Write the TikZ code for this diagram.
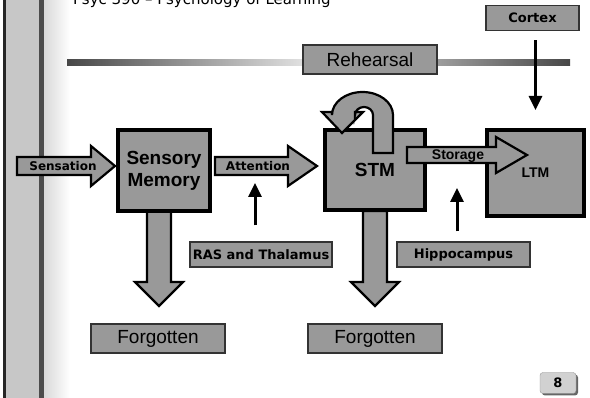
\documentclass[tikz,border=0pt]{standalone}
\usepackage{fontspec}
\setmainfont{Liberation Sans}
\newfontfamily\verd{DejaVu Sans}
\usetikzlibrary{arrows.meta,shadows}
\definecolor{boxgray}{gray}{0.6}

\begin{document}
\begin{tikzpicture}[x=1pt, y=-1pt,
    memory/.style={draw=black, line width=4pt, fill=boxgray, align=center, inner sep=0pt},
    tag/.style={draw=black!80, line width=1.2pt, fill=boxgray, inner sep=0pt,
        minimum width=134pt, minimum height=29pt, font=\fontsize{19}{22}\selectfont},
    smalltag/.style={draw=black!80, line width=1.2pt, fill=boxgray, inner sep=0pt,
        minimum height=25pt, font=\verd\bfseries\fontsize{13}{15}\selectfont},
    fat/.style={draw=black, line width=2.2pt, fill=boxgray, line join=miter},
    fatlabel/.style={font=\verd\bfseries\fontsize{12}{14}\selectfont, inner sep=0pt},
    feed/.style={line width=3pt, -{Triangle[width=13pt,length=14pt]}}
]
\useasboundingbox (0,0) rectangle (590,398);

% Side bar
\fill[black!85] (3,0) rectangle (6,398);
\fill[black!22] (6,0) rectangle (39,398);
\fill[black!70] (39,0) rectangle (44,398);
\shade[left color=black!15, right color=white] (44,0) rectangle (70,398);

% Title and rule
\node[anchor=base west, font=\verd\fontsize{15}{17}\selectfont, inner sep=0pt] (title) at (73,5) {Psyc 390 – Psychology of Learning};
\shade[left color=black!72, right color=black!72, middle color=black!8] (67,60) rectangle (570,66);

% Rehearsal and Cortex
\node[tag] (rehearsal) at (370,59.5) {Rehearsal};
\node[smalltag, minimum width=93pt] (cortex) at (532.5,18) {Cortex};

% Forgotten arrows
\filldraw[fat] (147,211) -- (147,282) -- (135,282) -- (159,306) -- (183,282) -- (171,282) -- (171,211) -- cycle;
\filldraw[fat] (363,211) -- (363,282) -- (351,282) -- (375,306) -- (399,282) -- (387,282) -- (387,211) -- cycle;

% Sensation
\filldraw[fat] (17,157) -- (91,157) -- (91,146) -- (115,166) -- (91,186) -- (91,175) -- (17,175) -- cycle;
\node[fatlabel] (sensation) at (63,166) {Sensation};

% Sensory memory
\node[memory, minimum width=92pt, minimum height=81pt, font=\bfseries\fontsize{19}{22}\selectfont] (sm) at (164,170.5) {Sensory\\Memory};

% Attention
\filldraw[fat] (215,157) -- (288,157) -- (288,146) -- (317,166) -- (288,186) -- (288,175) -- (215,175) -- cycle;
\node[fatlabel] (attention) at (258,166) {Attention};

% STM with rehearsal loop
\node[memory, minimum width=100pt, minimum height=80pt, font=\bfseries\fontsize{19}{22}\selectfont] (stm) at (375,170) {STM};
\filldraw[fat] (373,153) -- (373,115) arc[start angle=0, end angle=-180, x radius=9, y radius=8]
    -- (355,112) -- (363,112) -- (342,133) -- (322,112) -- (332,112) -- (332,115)
    arc[start angle=-180, end angle=0, x radius=30.5, y radius=23] -- (393,153) -- cycle;

% LTM
\node[memory, minimum width=97pt, minimum height=86pt, font=\bfseries\fontsize{14}{16}\selectfont] (ltm) at (535.5,173) {LTM};

% Storage
\filldraw[fat] (407,147) -- (496,147) -- (496,137) -- (527,155) -- (496,173) -- (496,163) -- (407,163) -- cycle;
\node[anchor=base, font=\bfseries\fontsize{14}{16}\selectfont, inner sep=0pt] (storage) at (458,160) {Storage};

% Inputs from below and above
\node[smalltag, minimum width=142pt] (ras) at (261,254.5) {RAS and Thalamus};
\node[smalltag, minimum width=133pt] (hippo) at (463.5,254.5) {Hippocampus};
\coordinate (attnfoot) at (255,183);
\coordinate (storfoot) at (457,188);
\draw[feed, shorten <=16pt] (ras.north -| attnfoot) -- (attnfoot);
\draw[feed, shorten <=10pt] (hippo.north -| storfoot) -- (storfoot);
\draw[feed, shorten <=9pt, shorten >=18pt] (cortex.south -| ltm.north) -- (ltm.north);

% Forgotten
\node[tag] (forgot1) at (158,338.5) {Forgotten};
\node[tag] (forgot2) at (375,338.5) {Forgotten};

% Page number
\node[draw=black!40, fill=black!18, rounded corners=3pt, minimum width=36pt, minimum height=21pt,
    drop shadow={shadow xshift=2pt, shadow yshift=-2pt, fill=black!60, opacity=1},
    font=\verd\bfseries\fontsize{13}{15}\selectfont] (page) at (558,383) {8};

\end{tikzpicture}
\end{document}
